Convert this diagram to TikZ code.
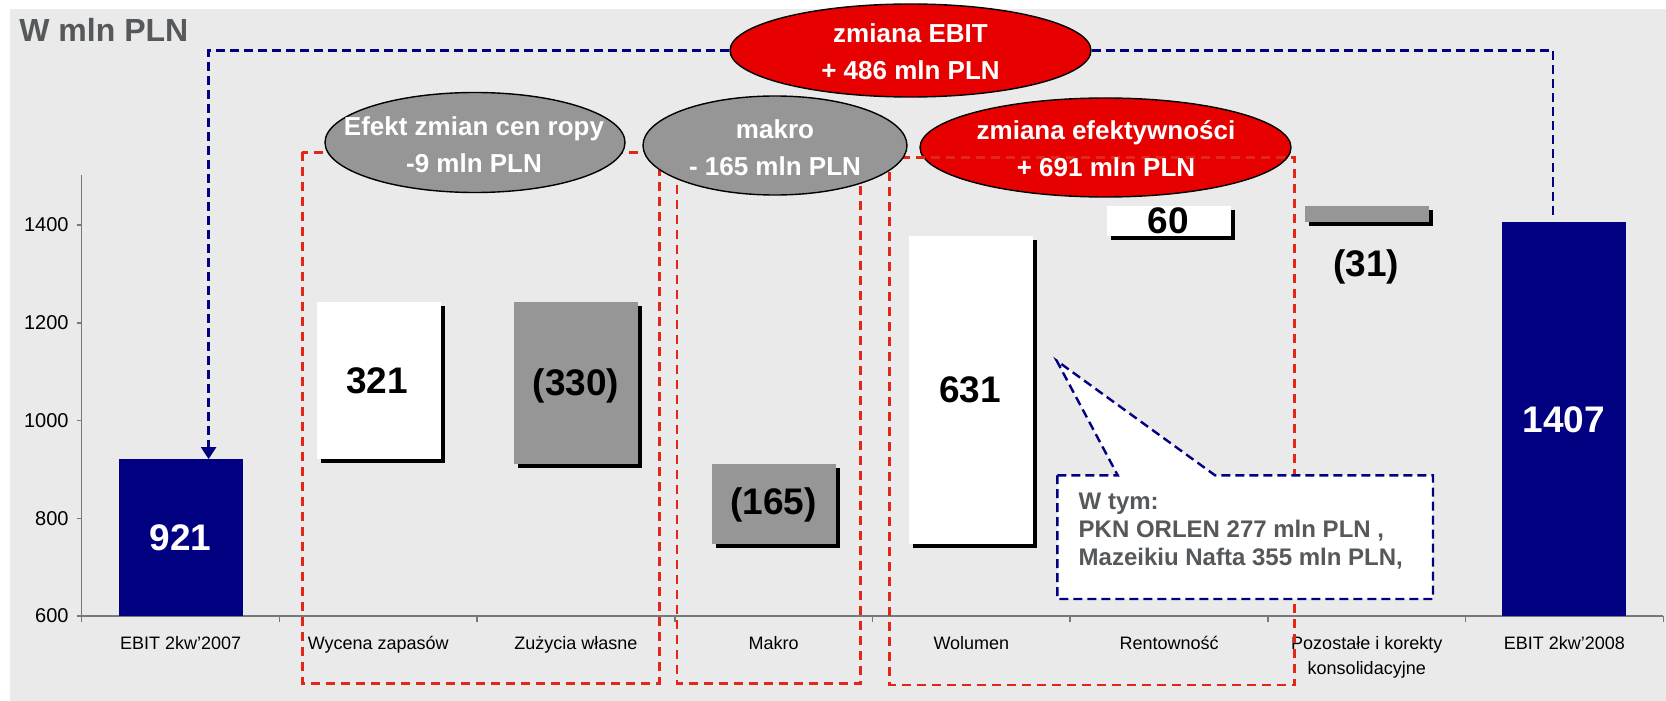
\documentclass[tikz,border=0pt]{standalone}
\usepackage{fontspec}
\setmainfont{Liberation Sans}
\usepackage{xcolor}
\usepackage{tikz}
\usetikzlibrary{shapes.geometric, arrows.meta}
\definecolor{navybar}{RGB}{0,0,128}
\definecolor{greybar}{RGB}{150,150,150}
\definecolor{panel}{RGB}{234,234,234}
\definecolor{axisgrey}{RGB}{120,120,120}
\definecolor{darktext}{RGB}{85,89,92}
\definecolor{ovalred}{RGB}{230,0,0}
\definecolor{boxred}{RGB}{226,38,24}

\begin{document}
\begin{tikzpicture}[x=0.5pt, y=-0.5pt,
		oval/.style={ellipse, draw=black, line width=0.7pt, inner sep=0pt},
		ovaltext/.style={text=white, font=\fontsize{13}{18.5}\selectfont\bfseries, align=center, inner sep=0pt},
		barlabel/.style={font=\fontsize{18.5}{22}\selectfont\bfseries, inner sep=0pt},
		catlabel/.style={font=\fontsize{9}{12.3}\selectfont, align=center, anchor=north, inner sep=0pt},
		bluedash/.style={draw=navybar, line width=1.2pt, dash pattern=on 4.5pt off 2.5pt},
		reddash/.style={draw=boxred, line width=1.3pt, dash pattern=on 4.5pt off 3pt}]

	\useasboundingbox (0,0) rectangle (1666,701);
	\fill[panel] (10,9) rectangle (1666,701);

	\node[anchor=base west, inner sep=0pt, text=darktext, font=\fontsize{16}{19}\selectfont\bfseries] (title) at (19,41.7) {W mln PLN};

	% axes
	\draw[axisgrey, line width=0.75pt] (81.7,175) -- (81.7,616) -- (1663.3,616);
	\foreach \v/\y in {600/616, 800/518.25, 1000/420.5, 1200/322.75, 1400/225} {
		\draw[axisgrey, line width=0.75pt] (76.5,\y) -- (81.7,\y);
		\node[anchor=east, inner sep=0pt, font=\fontsize{10}{12}\selectfont] (tick\v) at (69,\y) {\v};
	}
	\foreach \i in {0,...,8}
		\draw[axisgrey, line width=0.75pt] (81.7+197.7*\i,616) -- (81.7+197.7*\i,622);
	\foreach \i/\name/\txt in {0/c07/{EBIT 2kw'2007}, 1/cwyc/{Wycena zapasów}, 2/czuz/{Zużycia własne}, 3/cmak/{Makro}, 4/cwol/{Wolumen}, 5/cren/{Rentowność}, 6/cpoz/{Pozostałe i korekty\\konsolidacyjne}, 7/c08/{EBIT 2kw'2008}}
		\node[catlabel] (\name) at (180.55+197.7*\i,636) {\txt};

	% bars
	\fill[navybar] (118.5,459.1) rectangle (242.5,616);
	\fill[navybar] (1502,221.6) rectangle (1626,616);
	\foreach \xa/\ya/\yb/\col in {316.5/302.2/459.1/white, 514/302.2/463.5/greybar, 711.5/463.5/544.2/greybar, 909/235.8/544.2/white, 1107/206.4/235.8/white, 1305/206.4/221.6/greybar} {
		\fill[black] (\xa+4,\ya+4) rectangle (\xa+128,\yb+4);
		\fill[\col] (\xa,\ya) rectangle (\xa+124,\yb);
	}
	\node[barlabel, text=white] (v921) at (180.5,538) {921};
	\node[barlabel] (v321) at (377,381) {321};
	\node[barlabel] (v330) at (576,385.7) {(330)};
	\node[barlabel] (v165) at (773.7,505) {(165)};
	\node[barlabel] (v631) at (970,390) {631};
	\node[barlabel] (v60) at (1168,220.3) {60};
	\node[barlabel] (v31) at (1366,266.7) {(31)};
	\node[barlabel, text=white] (v1407) at (1563.7,420) {1407};

	% groups
	\node[oval, fill=ovalred, minimum width=185.5pt, minimum height=49.5pt] (eff) at (1105.5,147.5) {};
	\draw[reddash] (302.3,152.3) rectangle (659.3,683.3);
	\draw[reddash] (677,155) rectangle (860.7,683.3);
	\draw[reddash] (889.3,157.3) rectangle (1294.3,685);
	\node[oval, fill=greybar, minimum width=150pt, minimum height=50pt] (efekt) at (475,142.5) {};
	\node[oval, fill=greybar, minimum width=132pt, minimum height=49.5pt] (makro) at (775,145.5) {};
	\node[oval, fill=ovalred, minimum width=180.5pt, minimum height=46.5pt] (ebit) at (910.5,50.5) {};
	\node[ovaltext] (efekttxt) at (474,144.5) {Efekt zmian cen ropy\\-9 mln PLN};
	\node[ovaltext] (makrotxt) at (775,147.5) {makro\\- 165 mln PLN};
	\node[ovaltext] (efftxt) at (1106,148.5) {zmiana efektywności\\+ 691 mln PLN};
	\node[ovaltext] (ebittxt) at (910.5,51.5) {zmiana EBIT\\+ 486 mln PLN};

	% callout
	\coordinate (calltip) at (1056.7,360.7);
	\draw[bluedash, fill=white] (1057.3,475.3) -- (1117.7,475.3) -- (calltip) -- (1215,475.3) -- (1433,475.3) -- (1433,599) -- (1057.3,599) -- cycle;
	\node[anchor=west, inner sep=0pt, align=left, text=darktext, font=\fontsize{12}{14}\selectfont\bfseries] (calltext) at (1078.3,531) {W tym:\\PKN ORLEN 277 mln PLN ,\\Mazeikiu Nafta 355 mln PLN,};

	\coordinate (arrowend) at (208.6,459.1);
	\coordinate (rightend) at (1552.7,215);
	\draw[bluedash, -{Triangle[length=6pt, width=7.5pt]}] (ebit.west) -| (arrowend);
	\draw[bluedash] (ebit.east) -| (rightend);
\end{tikzpicture}
\end{document}
